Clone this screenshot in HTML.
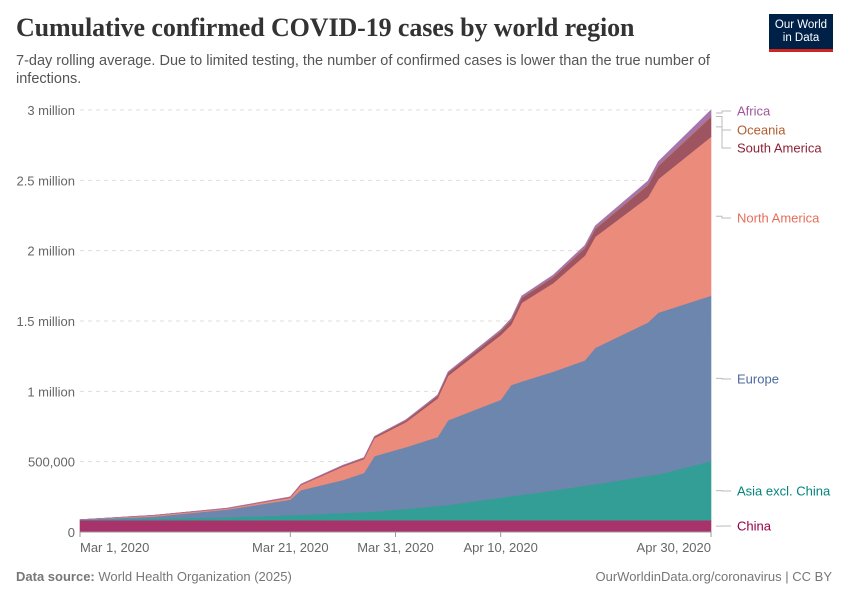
<!DOCTYPE html>
<html><head><meta charset="utf-8"><style>
body{margin:0;background:#fff;font-family:"Liberation Sans",sans-serif;}
#wrap{position:relative;width:850px;height:600px;overflow:hidden}
.t{position:absolute;white-space:nowrap}
</style></head><body>
<div id="wrap">
<div class="t" style="left:16px;top:13px;font-family:'Liberation Serif',serif;font-size:26px;font-weight:bold;color:#333;letter-spacing:-0.1px">Cumulative confirmed COVID-19 cases by world region</div>
<div class="t" style="left:16px;top:52px;font-size:14.5px;color:#555;line-height:18px;white-space:normal;width:730px">7-day rolling average. Due to limited testing, the number of confirmed cases is lower than the true number of infections.</div>
<div style="position:absolute;left:769px;top:14px;width:64px;height:38px;background:#002147;border-bottom:3px solid #ce261e;color:#fff;font-size:11.5px;text-align:center;line-height:13px;padding-top:5px;box-sizing:border-box">Our World<br>in Data</div>
<svg id="c" width="850" height="600" style="position:absolute;left:0;top:0"></svg>
<div class="t" style="left:16px;top:569px;font-size:13px;color:#777"><b>Data source:</b> World Health Organization (2025)</div>
<div class="t" style="right:18px;top:569px;font-size:13px;color:#777">OurWorldinData.org/coronavirus | CC BY</div>
</div>
<script>
const days=[0,7,14,20,21,25,27,28,31,34,35,40,41,42,45,48,49,54,55,60];
const china=[84,84,84,84,84,84,84,84,84,84,84,84,84,84,84,84,84,84,84,84];
const asia=[2,11,21,36,39,51,58,62,81,101,108,161,171,181,211,246,256,316,326,421];
const europe=[2,15,55,110,175,235,278,394,439,490,603,695,790,805,845,890,970,1090,1150,1175];
const northAmerica=[0,8,7,15,36,96,99,128,178,275,317,460,430,560,630,745,790,890,950,1130];
const southAmerica=[0,1,2,3,4,6,7,8,12,17,19,27,31,34,41,52,55,85,92,140];
const oceania=[0,0,0,1,1,1,1,2,2,3,3,4,4,5,5,6,6,7,7,8];
const africa=[0,0,1,1,1,2,2,2,3,4,5,7,8,9,11,14,16,23,25,42];
const yTicks=[0,500,1000,1500,2000,2500,3000];
const yTickLabels=["0","500,000","1 million","1.5 million","2 million","2.5 million","3 million"];
const xTicks=[0,20,30,40,60];
const xTickLabels=["Mar 1, 2020","Mar 21, 2020","Mar 31, 2020","Apr 10, 2020","Apr 30, 2020"];
const series=[
 {name:"China",v:china,fill:"#a8336a",lc:"#970046"},
 {name:"Asia excl. China",v:asia,fill:"#339e95",lc:"#00847e"},
 {name:"Europe",v:europe,fill:"#6d86ad",lc:"#4c6a9c"},
 {name:"North America",v:northAmerica,fill:"#eb8b7b",lc:"#e56e5a"},
 {name:"South America",v:southAmerica,fill:"#9e5561",lc:"#8a2336"},
 {name:"Oceania",v:oceania,fill:"#b07a5a",lc:"#b35c2e"},
 {name:"Africa",v:africa,fill:"#a874b0",lc:"#a2559c"}];
const X=d=>80+d*(631/60), Y=v=>532-v*(422/3000);
const svg=document.getElementById('c'),NS="http://www.w3.org/2000/svg";
function mk(t,a){const e=document.createElementNS(NS,t);for(const k in a)e.setAttribute(k,a[k]);svg.appendChild(e);return e;}
yTicks.forEach((v,i)=>{
 if(i>0){const g=mk('line',{x1:80,x2:711,y1:Y(v),y2:Y(v),stroke:'#ddd','stroke-dasharray':'4,4'});
 
 }
 const t=mk('text',{x:75,y:Y(v)+5,'text-anchor':'end','font-size':13,fill:'#666','font-family':'Liberation Sans'});t.textContent=yTickLabels[i];
 
 
});
let base=days.map(()=>0);
const labelY={};
series.forEach(s=>{
 const top=base.map((b,i)=>b+s.v[i]);
 let d='M'+days.map((dd,i)=>X(dd)+','+Y(top[i])).join('L');
 for(let i=days.length-1;i>=0;i--)d+='L'+X(days[i])+','+Y(base[i]);
 const p=mk('path',{d:d+'Z',fill:s.fill,stroke:s.fill,'stroke-width':0.6});
 
 
 labelY[s.name]=(Y(top[top.length-1])+Y(base[base.length-1]))/2;
 base=top;
});
const lab={"China":526,"Asia excl. China":491,"Europe":379,"North America":218,"South America":148,"Oceania":130,"Africa":111};
series.forEach(s=>{
 const ly=lab[s.name];
 const ln=mk('path',{d:`M716,${labelY[s.name]}H722V${ly}H731`,fill:'none',stroke:'#bbb'});
 
 
 const t=mk('text',{x:737,y:ly+4.5,'font-size':13,fill:s.lc,'font-family':'Liberation Sans'});t.textContent=s.name;
 
 
});
const ax=mk('line',{x1:80,x2:711,y1:532,y2:532,stroke:'#999'});


xTicks.forEach((d,i)=>{
 const tk=mk('line',{x1:X(d),x2:X(d),y1:532,y2:537,stroke:'#999'});
 
 
 const anchor=i==0?'start':(i==xTicks.length-1?'end':'middle');
 const t=mk('text',{x:X(d),y:552,'text-anchor':anchor,'font-size':13,fill:'#666','font-family':'Liberation Sans'});t.textContent=xTickLabels[i];
 
 
});
</script>
</body></html>
